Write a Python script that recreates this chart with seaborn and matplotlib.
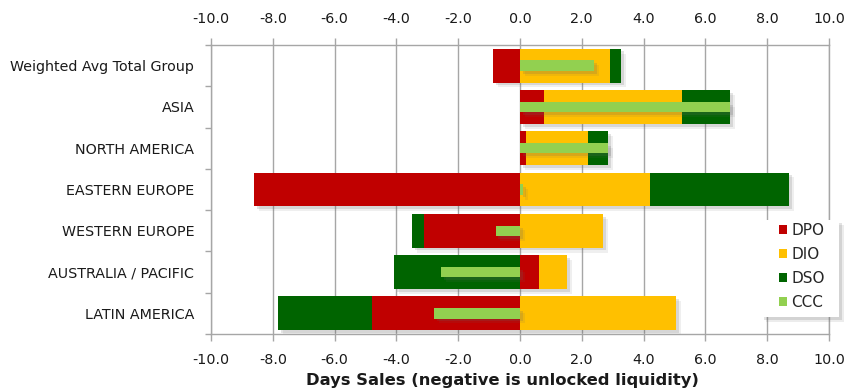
import numpy as np
import pandas as pd
import matplotlib
matplotlib.use("Agg")
import matplotlib.pyplot as plt
import matplotlib.patheffects as pe
from matplotlib.patches import Patch, Rectangle
from matplotlib.ticker import MultipleLocator, FixedLocator, FormatStrFormatter
import seaborn as sns

# Days-sales contributions per region
regions = ["Weighted Avg Total Group", "ASIA", "NORTH AMERICA", "EASTERN EUROPE",
           "WESTERN EUROPE", "AUSTRALIA / PACIFIC", "LATIN AMERICA"]
dpo = [-0.88, 0.79, 0.20, -8.61, -3.11, 0.61, -4.79]
dio = [2.92, 4.44, 2.01, 4.21, 2.69, 0.91, 5.05]
dso = [0.36, 1.57, 0.63, 4.51, -0.37, -4.07, -3.04]
ccc = [2.40, 6.80, 2.84, 0.10, -0.79, -2.55, -2.78]

series_names = ["DPO", "DIO", "DSO", "CCC"]
palette = {"DPO": "#C00000", "DIO": "#FFC000", "DSO": "#006400", "CCC": "#92D050"}

sns.set_theme(style="white")
plt.rcParams["font.family"] = ["DejaVu Sans"]
plt.rcParams["axes.unicode_minus"] = False

W, H = 851, 392
fig = plt.figure(figsize=(W / 100, H / 100), dpi=100)
ax = fig.add_axes([211 / W, 1 - 334 / H, (829 - 211) / W, (334 - 45) / H])

# diverging stack: positive parts stack rightwards, negative parts leftwards
components = np.array([dpo, dio, dso])
pos_cum = np.clip(components, 0, None).cumsum(axis=0)
neg_cum = np.clip(components, None, 0).cumsum(axis=0)

# soft drop shadow built from two offset layers
shadow = [pe.SimplePatchShadow(offset=(3.5, -3.5), shadow_rgbFace="0.4", alpha=0.10),
          pe.SimplePatchShadow(offset=(2, -2), shadow_rgbFace="0.4", alpha=0.18),
          pe.Normal()]

def draw_layer(values, name, width, with_shadow):
    df = pd.DataFrame({"region": regions, "value": values})
    sns.barplot(data=df, x="value", y="region", orient="h", order=regions,
                color=palette[name], saturation=1, width=width, errorbar=None,
                linewidth=0, ax=ax)
    if with_shadow:
        for p in ax.containers[-1]:
            p.set_path_effects(shadow)

for k in (2, 1, 0):
    for side in (pos_cum, neg_cum):
        draw_layer(side[k], series_names[k], 0.82, k == 2)

draw_layer(ccc, "CCC", 0.25, True)

# axes styling
grey = "#A6A6A6"
ax.set_xlim(-10, 10)
ax.set_ylim(6.5, -0.5)
ax.xaxis.set_major_locator(MultipleLocator(2))
ax.xaxis.set_major_formatter(FormatStrFormatter("%.1f"))
ax.tick_params(axis="x", which="major", top=True, labeltop=True, bottom=True,
               labelbottom=True, direction="out", length=5, width=1, color=grey,
               pad=9, labelsize=10.3, labelcolor="#1a1a1a")
ax.grid(axis="x", color=grey, linewidth=1)
ax.grid(axis="y", visible=False)
ax.set_axisbelow(True)

ax.yaxis.set_minor_locator(FixedLocator(np.arange(-0.5, 7.0, 1.0)))
ax.tick_params(axis="y", which="major", length=0, pad=12, labelsize=10.3, labelcolor="#1a1a1a")
ax.tick_params(axis="y", which="minor", left=True, length=4, width=1, color=grey)
ax.set_ylabel("")
ax.set_xlabel("Days Sales (negative is unlocked liquidity)", fontweight="bold",
              fontsize=11.8, color="#1a1a1a")
ax.xaxis.set_label_coords((502 - 211) / 618, -0.135)
for s in ax.spines.values():
    s.set_color(grey)
    s.set_linewidth(1)
    s.set_visible(True)

# legend box with shadow, then the entries on top of it
box = Rectangle((761 / W, 1 - 317 / H), 78 / W, 97 / H, transform=fig.transFigure,
                facecolor="white", edgecolor="none", zorder=3,
                path_effects=[pe.SimplePatchShadow(offset=(3.5, -3.5), shadow_rgbFace="0.4", alpha=0.12),
                              pe.SimplePatchShadow(offset=(2, -2), shadow_rgbFace="0.4", alpha=0.18),
                              pe.Normal()])
fig.add_artist(box)
handles = [Patch(facecolor=palette[n], edgecolor="none") for n in series_names]
fig.legend(handles, series_names, loc="upper left",
           bbox_to_anchor=(779 / W, 1 - 223 / H), frameon=False,
           borderpad=0, borderaxespad=0, handlelength=0.52, handleheight=0.52,
           handletextpad=0.28, labelspacing=0.58, fontsize=11)

fig.savefig("out.png", dpi=100)
